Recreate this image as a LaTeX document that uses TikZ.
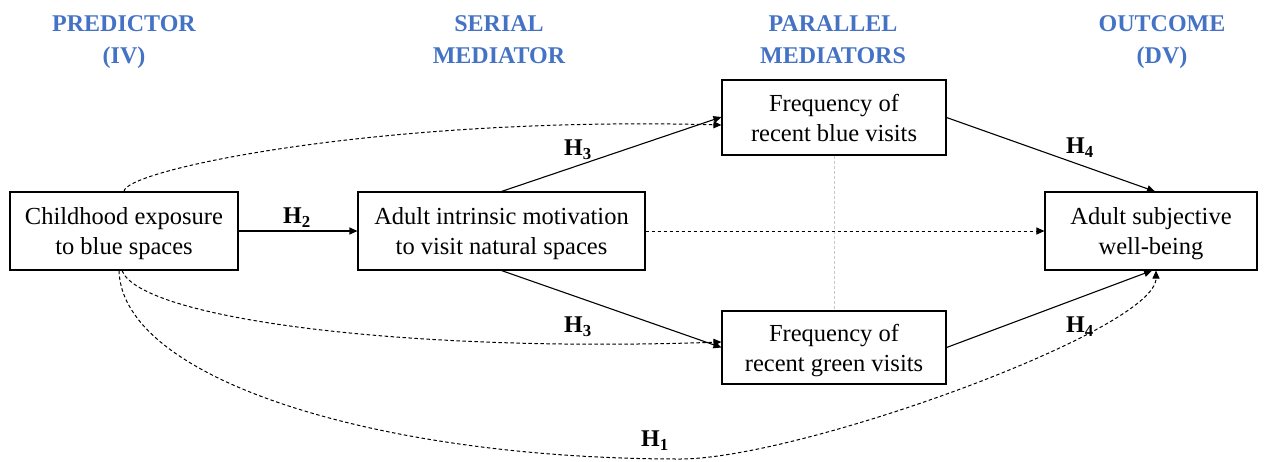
\documentclass[tikz,border=0pt]{standalone}
\usepackage{fontspec}
\setmainfont{Liberation Serif}
\usetikzlibrary{arrows.meta}
\definecolor{hdrblue}{HTML}{4472C4}
\definecolor{sepgray}{HTML}{C8C8C8}
\begin{document}
\begin{tikzpicture}[x=1pt,y=-1pt,
  box/.style={draw, line width=1.1pt, align=center, inner sep=0pt,
    font=\fontsize{24.5}{30}\selectfont},
  hdr/.style={text=hdrblue, align=center, anchor=north, inner sep=0pt,
    font=\bfseries\fontsize{24}{32}\selectfont},
  lab/.style={font=\bfseries\fontsize{24}{28}\selectfont},
  sol/.style={line width=1.1pt, -{Triangle[length=8pt,width=7pt]}},
  dsh/.style={line width=1pt, dash pattern=on 3.5pt off 2.5pt, -{Triangle[length=8pt,width=7pt]}}]
\useasboundingbox (0,0) rectangle (1268,461);

% headers
\node[hdr] (h1) at (124,15.5) {PREDICTOR\\(IV)};
\node[hdr] (h2) at (499,15.5) {SERIAL\\MEDIATOR};
\node[hdr] (h3) at (833,15.5) {PARALLEL\\MEDIATORS};
\node[hdr] (h4) at (1162,15.5) {OUTCOME\\(DV)};

% boxes
\node[box, minimum width=228pt, minimum height=78pt] (A) at (124,231) {Childhood exposure\\\smash{to blue spaces}};
\node[box, minimum width=287pt, minimum height=78pt] (B) at (501.5,231) {Adult intrinsic motivation\\\smash{to visit natural spaces}};
\node[box, minimum width=224pt, minimum height=75pt] (Bl) at (834,117.5) {Frequency of\\\smash{recent blue visits}};
\node[box, minimum width=224pt, minimum height=73pt] (Gr) at (834,347.5) {Frequency of\\\smash{recent green visits}};
\node[box, minimum width=212pt, minimum height=78pt] (O) at (1151,231) {Adult subjective\\\smash{well-being}};

% gray separator
\draw[sepgray, line width=0.8pt, dash pattern=on 3pt off 2pt] (Bl.south) -- (Gr.north);

% solid paths
\draw[sol] (A.east) -- (B.west);
\draw[sol] (B.north) -- ([yshift=0.5pt]Bl.west);
\draw[sol] (B.south) -- (Gr.west);
\draw[sol] (Bl.east) -- ([xshift=4pt]O.north);
\draw[sol] (Gr.east) -- ([xshift=1pt]O.south);

% dashed paths
\draw[dsh] (B.east) -- (O.west);
\draw[dsh] (A.north) .. controls (124,170) and (380,116) .. ([yshift=-7.5pt]Bl.west);
\draw[dsh] ([xshift=-2pt]A.south) .. controls (140,318) and (400,353) .. ([yshift=5.5pt]Gr.west);
\coordinate (low) at (680,459);
\draw[dsh] ([xshift=-5pt]A.south) .. controls (122,380) and (380,459) .. (low)
  .. controls (800,459) and (1156,330) .. ([xshift=5pt]O.south);

% labels
\node[lab] (l2) at (297,218) {H\textsubscript{2}};
\node[lab] (l3a) at (578,150) {H\textsubscript{3}};
\node[lab] (l3b) at (578,327) {H\textsubscript{3}};
\node[lab] (l4a) at (1080,148) {H\textsubscript{4}};
\node[lab] (l4b) at (1080,327) {H\textsubscript{4}};
\node[lab] (l1) at (655,441) {H\textsubscript{1}};
\end{tikzpicture}
\end{document}
